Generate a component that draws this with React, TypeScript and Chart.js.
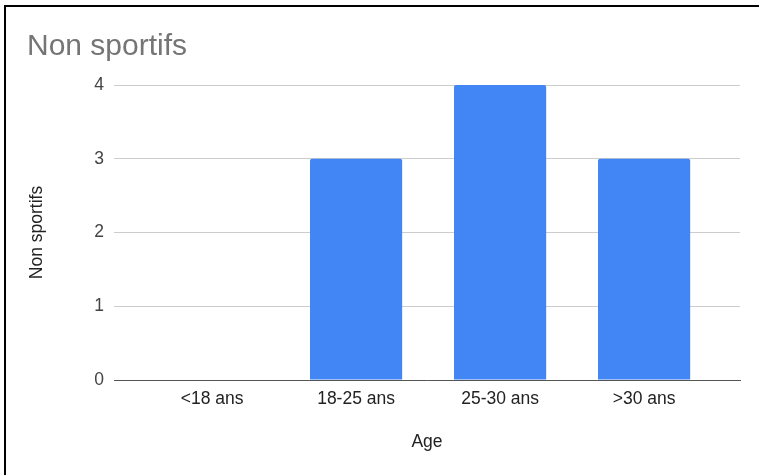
import React, { useEffect, useRef } from "react";
import { Chart, registerables } from "chart.js";

Chart.register(...registerables);

// Age groups and the number of non-sporty people in each
const ageGroups: string[] = ["<18 ans", "18-25 ans", "25-30 ans", ">30 ans"];
const nonSportifs: number[] = [0, 3, 4, 3];
const yTicks: number[] = [0, 1, 2, 3, 4];

const chartTitle = "Non sportifs";
const yAxisTitle = "Non sportifs";
const xAxisTitle = "Age";

const FONT = "'Liberation Sans', Arial, sans-serif";

// Frame lines and the chart heading, painted on the canvas
const framePlugin = {
  id: "frameAndHeading",
  beforeDraw(chart: Chart) {
    const { ctx, width, height } = chart;
    ctx.save();
    ctx.fillStyle = "#ffffff";
    ctx.fillRect(0, 0, width, height);
    ctx.fillStyle = "#000000";
    ctx.fillRect(4, 5, width - 4, 2);
    ctx.fillRect(4, 5, 2, height - 5);
    ctx.restore();
  },
  afterDraw(chart: Chart) {
    const { ctx } = chart;
    ctx.save();
    ctx.font = `30px ${FONT}`;
    ctx.fillStyle = "#757575";
    ctx.textBaseline = "alphabetic";
    ctx.textAlign = "left";
    ctx.fillText(chartTitle, 27, 54.5);
    ctx.restore();
  },
};

export default function App() {
  const canvasRef = useRef<HTMLCanvasElement | null>(null);

  useEffect(() => {
    if (!canvasRef.current) return;
    const chart = new Chart(canvasRef.current, {
      type: "bar",
      data: {
        datasets: [
          {
            label: yAxisTitle,
            data: nonSportifs.map((v, i) => ({ x: i, y: v })),
            backgroundColor: "#4285F4",
            borderRadius: 2,
            categoryPercentage: 0.8,
            barPercentage: 0.8,
          },
        ],
      },
      options: {
        responsive: false,
        animation: false,
        layout: { padding: { top: 85, left: 23, right: 19, bottom: 18 } },
        plugins: {
          legend: { display: false },
          tooltip: { enabled: false },
          title: { display: false },
        },
        scales: {
          x: {
            type: "linear",
            offset: false,
            min: -0.681,
            max: 3.666,
            afterBuildTicks: (scale: any) => {
              scale.ticks = ageGroups.map((_, i) => ({ value: i }));
            },
            afterFit: (scale: any) => {
              scale.height = 77;
            },
            grid: { display: false, drawTicks: false, offset: false },
            border: { display: true, color: "#555555", width: 1 },
            ticks: {
              callback: (value: any) => ageGroups[Math.round(Number(value))] ?? "",
              color: "#222222",
              font: { family: FONT, size: 17.5 },
              padding: 9,
              maxRotation: 0,
              autoSkip: false,
            },
            title: {
              display: true,
              text: xAxisTitle,
              color: "#222222",
              font: { family: FONT, size: 17.5 },
            },
          },
          y: {
            type: "linear",
            min: 0,
            max: 4,
            afterBuildTicks: (scale: any) => {
              scale.ticks = yTicks.map((v) => ({ value: v }));
            },
            afterFit: (scale: any) => {
              scale.width = 91;
            },
            grid: { color: "#cccccc", drawTicks: false },
            border: { display: false },
            ticks: {
              color: "#444444",
              font: { family: FONT, size: 17.5 },
              padding: 10,
            },
            title: {
              display: true,
              text: yAxisTitle,
              color: "#222222",
              font: { family: FONT, size: 17.5 },
            },
          },
        },
      },
      plugins: [framePlugin],
    });
    return () => chart.destroy();
  }, []);

  return (
    <div style={{ position: "fixed", left: 0, top: 0, width: 759, height: 475, background: "#fff" }}>
      <canvas ref={canvasRef} width={759} height={475} style={{ display: "block" }} />
    </div>
  );
}
